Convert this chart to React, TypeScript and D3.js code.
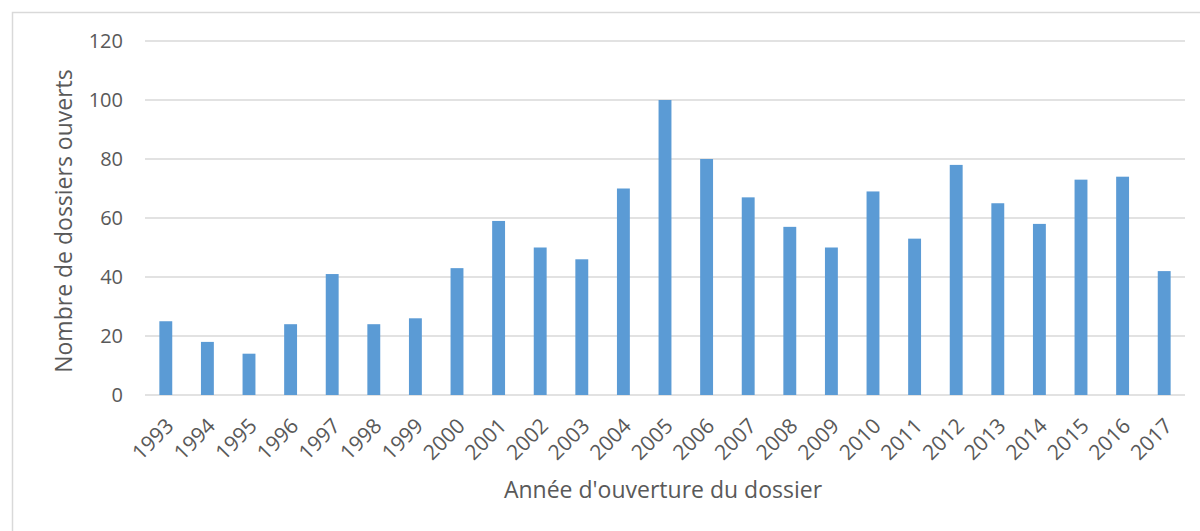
import * as d3 from "d3";
import { useEffect, useRef } from "react";

const years = ["1993", "1994", "1995", "1996", "1997", "1998", "1999", "2000", "2001", "2002", "2003", "2004", "2005",
    "2006", "2007", "2008", "2009", "2010", "2011", "2012", "2013", "2014", "2015", "2016", "2017"];
const dossiers = [25, 18, 14, 24, 41, 24, 26, 43, 59, 50, 46, 70, 100, 80, 67, 57, 50, 69, 53, 78, 65, 58, 73, 74, 42];
const yTicks = [0, 20, 40, 60, 80, 100, 120];

const App = () => {
    const ref = useRef<SVGSVGElement>(null);

    useEffect(() => {
        const svg = d3.select(ref.current);
        svg.selectAll("*").remove();
        const width = 1200;
        const height = 531;
        const margin = { top: 41, right: 15, bottom: 136, left: 145 };
        const font = "'Open Sans', sans-serif";
        const textColor = "#595959";

        // chart border
        svg.append("rect")
            .attr("x", 12.5).attr("y", 12.5)
            .attr("width", width).attr("height", height)
            .attr("fill", "white")
            .attr("stroke", "#d9d9d9")
            .attr("stroke-width", 1.5);

        const x = d3.scaleBand()
            .domain(years)
            .range([margin.left, width - margin.right])
            .paddingInner(0.69)
            .paddingOuter(0.345);

        const y = d3.scaleLinear()
            .domain([0, 120])
            .range([height - margin.bottom, margin.top]);

        // gridlines
        svg.append("g")
            .selectAll("line")
            .data(yTicks)
            .join("line")
            .attr("x1", margin.left)
            .attr("x2", width - margin.right)
            .attr("y1", d => y(d))
            .attr("y2", d => y(d))
            .attr("stroke", "#d9d9d9")
            .attr("stroke-width", 1.5);

        // y labels
        svg.append("g")
            .selectAll("text")
            .data(yTicks)
            .join("text")
            .attr("x", 123)
            .attr("y", d => y(d))
            .attr("dy", "0.35em")
            .attr("text-anchor", "end")
            .attr("font-family", font)
            .attr("font-size", 20)
            .attr("fill", textColor)
            .text(d => d);

        // bars
        svg.append("g")
            .selectAll("rect")
            .data(dossiers)
            .join("rect")
            .attr("x", (d, i) => x(years[i]))
            .attr("y", d => y(d))
            .attr("width", x.bandwidth())
            .attr("height", d => y(0) - y(d))
            .attr("fill", "#5b9bd5");

        // x labels, rotated
        svg.append("g")
            .selectAll("text")
            .data(years)
            .join("text")
            .attr("transform", d => `translate(${x(d) + x.bandwidth() / 2 + 4}, ${y(0) + 27}) rotate(-45)`)
            .attr("text-anchor", "end")
            .attr("dy", "0.35em")
            .attr("font-family", font)
            .attr("font-size", 21)
            .attr("fill", textColor)
            .text(d => d);

        // axis titles
        svg.append("text")
            .attr("x", 663)
            .attr("y", 498)
            .attr("text-anchor", "middle")
            .attr("font-family", font)
            .attr("font-size", 23)
            .attr("fill", textColor)
            .text("Année d'ouverture du dossier");

        svg.append("text")
            .attr("transform", `translate(72, 221) rotate(-90)`)
            .attr("text-anchor", "middle")
            .attr("font-family", font)
            .attr("font-size", 23)
            .attr("fill", textColor)
            .text("Nombre de dossiers ouverts");
    }, []);

    return (
        <svg ref={ref} width={1200} height={531}
            style={{ position: "absolute", left: 0, top: 0, display: "block" }} />
    );
};

export default App;
